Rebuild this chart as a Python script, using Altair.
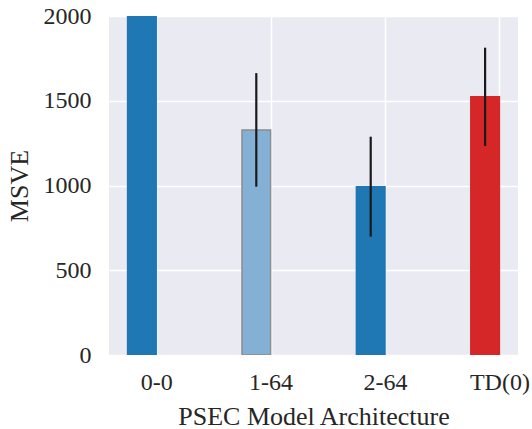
import altair as alt
import pandas as pd

categories = ["0-0", "1-64", "2-64", "TD(0)"]
positions = [0, 1, 2, 3]
msve = [2600, 1328, 993, 1523]
err = [300, 335, 295, 290]
fills = ["#1f77b4", "#85b0d5", "#1f77b4", "#d62728"]
strokes = ["#1f77b4", "#8c8c8c", "#1f77b4", "#d62728"]

df = pd.DataFrame({
    "cat": categories,
    "pos": positions,
    "msve": msve,
    "err": err,
    "fill": fills,
    "stroke": strokes,
})
df["left"] = df["pos"] - 0.25
df["mid"] = df["pos"] - 0.125
df["lo"] = df["msve"] - df["err"]
df["hi"] = df["msve"] + df["err"]

label_expr = "datum.value == 0 ? '0-0' : datum.value == 1 ? '1-64' : datum.value == 2 ? '2-64' : 'TD(0)'"

xscale = alt.Scale(domain=[-0.4125, 3.1625], nice=False, zero=False)
yscale = alt.Scale(domain=[0, 2000], nice=False)

font = "Liberation Serif"

base = alt.Chart(df)

bars = base.mark_bar(clip=True, strokeWidth=1.5).encode(
    x=alt.X("left:Q", scale=xscale,
            axis=alt.Axis(values=positions, labelExpr=label_expr,
                          title="PSEC Model Architecture", grid=True)),
    x2="pos:Q",
    y=alt.Y("msve:Q", scale=yscale,
            axis=alt.Axis(values=[0, 500, 1000, 1500, 2000], format="d",
                          title="MSVE", grid=True)),
    y2=alt.datum(0),
    fill=alt.Fill("fill:N", scale=None),
    stroke=alt.Stroke("stroke:N", scale=None),
)

errs = base.mark_rule(clip=True, color="#1a1a1a", strokeWidth=2.2).encode(
    x=alt.X("mid:Q", scale=xscale),
    y=alt.Y("lo:Q", scale=yscale),
    y2="hi:Q",
)

chart = (bars + errs).properties(
    width=409,
    height=339,
    autosize=alt.AutoSizeParams(type="none"),
    padding={"left": 109, "top": 16, "right": 14, "bottom": 74},
    background="white",
).configure_view(
    fill="#EAEAF2", stroke=None
).configure_axis(
    domain=False,
    ticks=False,
    gridColor="white",
    gridWidth=1.5,
    gridOpacity=1,
    labelFont=font,
    labelFontSize=24,
    labelColor="#262626",
    titleFont=font,
    titleFontSize=26,
    titleFontWeight="normal",
    titleColor="#262626",
).configure_axisY(
    labelPadding=18,
    titlePadding=11,
).configure_axisX(
    labelPadding=15,
    titlePadding=9,
)

chart.save("out.html", embed_options={"renderer": "svg", "actions": False})
